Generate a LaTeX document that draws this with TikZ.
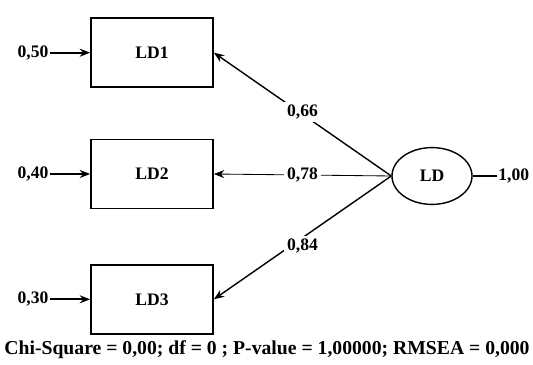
\documentclass[tikz,border=0pt]{standalone}
\usepackage{fontspec}
\setmainfont{Liberation Serif}
\usetikzlibrary{positioning,arrows.meta,shapes.geometric}

\begin{document}
\begin{tikzpicture}[x=0.025cm, y=-0.025cm, font=\bfseries\fontsize{12.5}{14}\selectfont,
      >={Stealth[length=2.6mm, width=2mm]},
      obs/.style={draw, line width=1.2pt, minimum width=3.05cm, minimum height=1.72cm},
      lat/.style={draw, ellipse, line width=1pt, minimum width=2cm, minimum height=1.42cm},
      err/.style={inner sep=1pt},
      lbl/.style={fill=white, inner sep=2pt}]
    \useasboundingbox (0,0) rectangle (533,365);
    \node[obs] (ld2) at (152,174) {LD2};
    \node[obs, above=1.27cm of ld2] (ld1) {LD1};
    \node[obs, below=1.37cm of ld2] (ld3) {LD3};
    \node[lat] (ld) at (432,176) {LD};
    \node[err, left=1cm of ld1] (e1) {0,50};
    \node[err, left=1cm of ld2] (e2) {0,40};
    \node[err, left=1cm of ld3] (e3) {0,30};
    \node[err, right=0.6cm of ld] (eld) {1,00};
    \draw[->, line width=1.2pt] (e1) -- (ld1);
    \draw[->, line width=1.2pt] (e2) -- (ld2);
    \draw[->, line width=1.2pt] (e3) -- (ld3);
    \draw[->, line width=1pt] (ld.west) -- node[lbl, yshift=2pt]{0,66} (ld1.east);
    \draw[->, line width=0.6pt] (ld.west) -- node[lbl]{0,78} (ld2.east);
    \draw[->, line width=1pt] (ld.west) -- node[lbl, pos=0.5, yshift=-6pt]{0,84} (ld3.east);
    \draw[line width=0.8pt] (ld) -- (eld);
    \node[font=\bfseries\fontsize{14}{16}\selectfont] (fit) at (267,350)
      {Chi-Square = 0,00; df = 0 ; P-value = 1,00000; RMSEA = 0,000};
\end{tikzpicture}
\end{document}
